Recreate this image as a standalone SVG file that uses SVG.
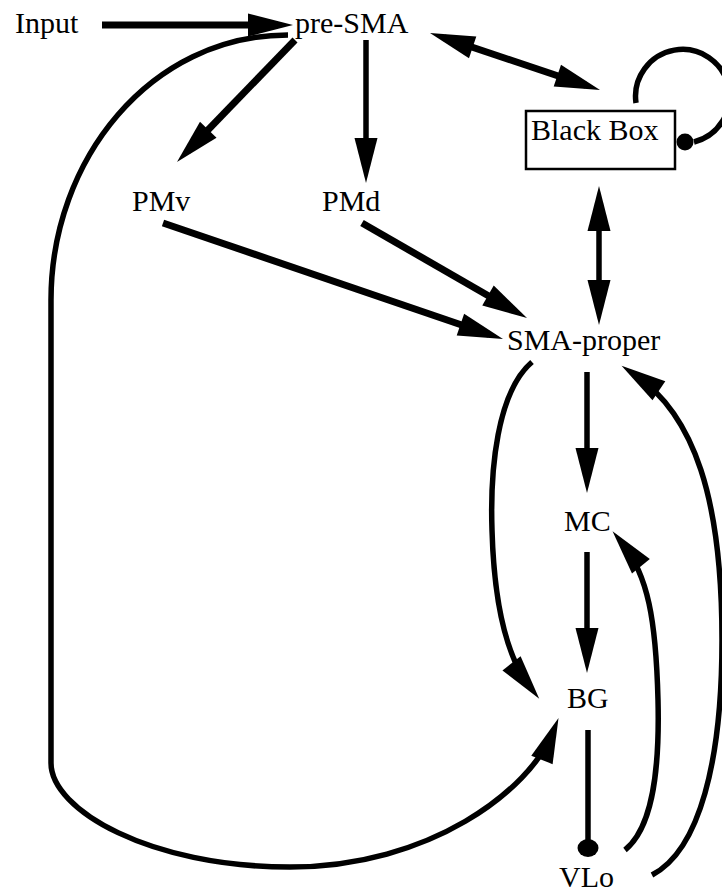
<svg xmlns="http://www.w3.org/2000/svg" width="722" height="892" viewBox="0 0 722 892">
<style>
text{font-family:"Liberation Serif","Times New Roman",serif;font-size:30px;fill:#000}
.c{fill:none;stroke:#000;stroke-width:5.5}
.t{fill:none;stroke:#000;stroke-width:7}
.a{marker-end:url(#ah)}
.d{marker-start:url(#ah);marker-end:url(#ah)}
</style>
<defs>
<marker id="ah" markerUnits="userSpaceOnUse" markerWidth="46" markerHeight="24" refX="30" refY="11.5" orient="auto-start-reverse" overflow="visible">
<path d="M0,0 L45,11.5 L0,23 z" fill="#000"/>
</marker>
</defs>
<g id="connectors">
<path class="t a" d="M102,25 L278,25"/>
<path class="t a" d="M295,40 L187.4,151.2"/>
<path class="c a" d="M366,40 L366,168"/>
<path class="t d" d="M444.2,37.8 L585.8,85.2"/>
<path class="c" d="M636,103 A47,47 0 1 1 694,142"/>
<circle cx="685" cy="142" r="8.5" fill="#000"/>
<path class="c d" d="M599,201 L599,310"/>
<path class="t a" d="M163,223 L488.8,334.2"/>
<path class="t a" d="M362,223 L514,310.5"/>
<path class="c a" d="M288,35 C150,35 51,160 51,300 L51,763 C51,810 150,867 290,867 C430,867 530,790 553,732"/>
<path class="c a" d="M532,362 C497,392 490,470 492,530 C494,600 505,655 530,687"/>
<path class="c a" d="M587,372 L587,478"/>
<path class="c a" d="M587,552 L587,658"/>
<path class="c" d="M588,730 L588,846"/>
<ellipse cx="588" cy="848" rx="10.5" ry="9" fill="#000"/>
<path class="c a" d="M625,850 C650,830 660,780 658,700 C656,620 648,575 622,543"/>
<path class="c a" d="M652,875 C700,850 722,760 722,640 C722,500 695,415 634,374"/>
</g>
<g id="input"><text x="15" y="33">Input</text></g>
<g id="pre-sma"><text x="295" y="33">pre-SMA</text></g>
<g id="pmv"><text x="132" y="211">PMv</text></g>
<g id="pmd"><text x="322" y="211">PMd</text></g>
<g id="black-box"><rect x="526" y="111" width="149" height="58" fill="#fff" stroke="#000" stroke-width="2.5"/><text x="531" y="140">Black Box</text></g>
<g id="sma-proper"><text x="507" y="350">SMA-proper</text></g>
<g id="mc"><text x="564" y="531">MC</text></g>
<g id="bg"><text x="567" y="708">BG</text></g>
<g id="vlo"><text x="559" y="887">VLo</text></g>
</svg>
